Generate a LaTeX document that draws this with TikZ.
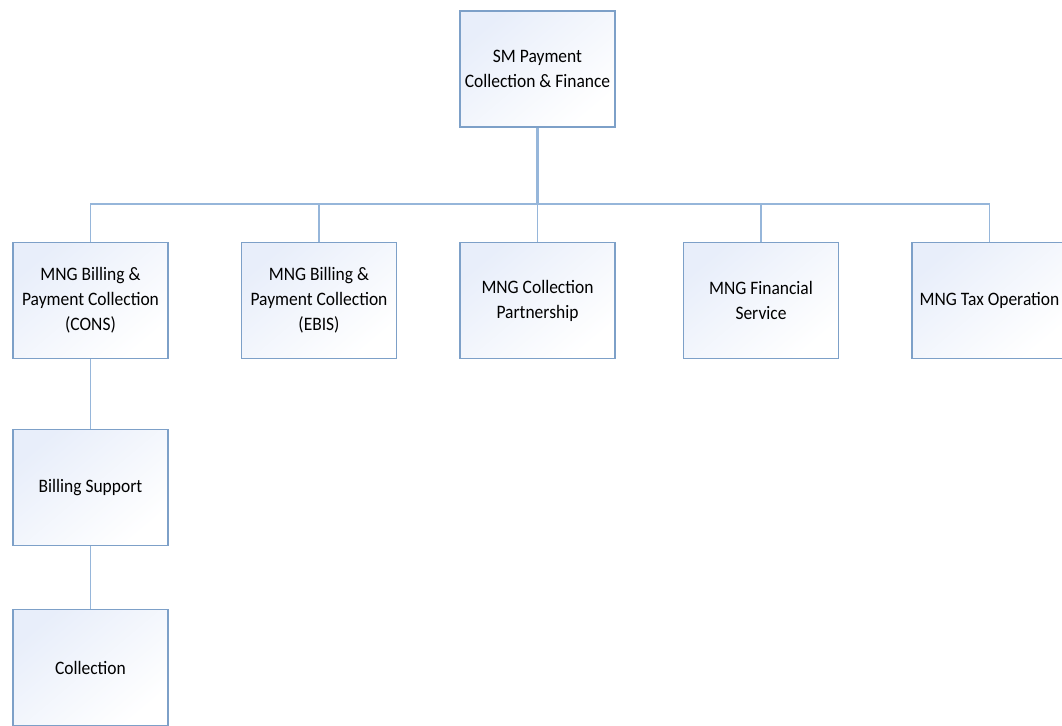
\documentclass[tikz,border=0pt]{standalone}
\usepackage{fontspec}
\setmainfont{Carlito}[FakeStretch=0.92]
\definecolor{boxline}{RGB}{125,160,200}
\definecolor{linkline}{RGB}{150,182,218}
\definecolor{boxfill}{RGB}{232,238,250}
\begin{document}
\begin{tikzpicture}[x=1pt,y=-1pt,
    unit/.style={draw=boxline, line width=1.6pt, top color=boxfill, bottom color=white,
      shading angle=40, minimum width=155pt, minimum height=116pt,
      align=center, inner sep=2pt, font=\fontsize{19}{25}\selectfont},
    link/.style={draw=linkline, line width=1.5pt}]
    \useasboundingbox (0,0) rectangle (1062,725);

    \node[unit] (head) at (537.5,69) {SM Payment\\Collection \& Finance};

    \node[unit] (cons)      at (90.5,300.5)  {MNG Billing \&\\Payment Collection\\(CONS)};
    \node[unit] (ebis)      at (319,300.5)   {MNG Billing \&\\Payment Collection\\(EBIS)};
    \node[unit] (partner)   at (537.5,300.5) {MNG Collection\\Partnership};
    \node[unit] (financial) at (761,300.5)   {MNG Financial\\Service};
    \node[unit] (tax)       at (989.5,300.5) {MNG Tax Operation};

    \node[unit] (support)    at (90.5,487.5) {Billing Support};
    \node[unit] (collection) at (90.5,667.5) {Collection};

    \coordinate (bus) at (537.5,204);
    \draw[link, line width=2.2pt] (head) -- (bus);
    \foreach \n in {cons,ebis,partner,financial,tax}
      \draw[link] (\n.north) |- (bus);
    \draw[link] (cons) -- (support);
    \draw[link] (support) -- (collection);
\end{tikzpicture}
\end{document}
